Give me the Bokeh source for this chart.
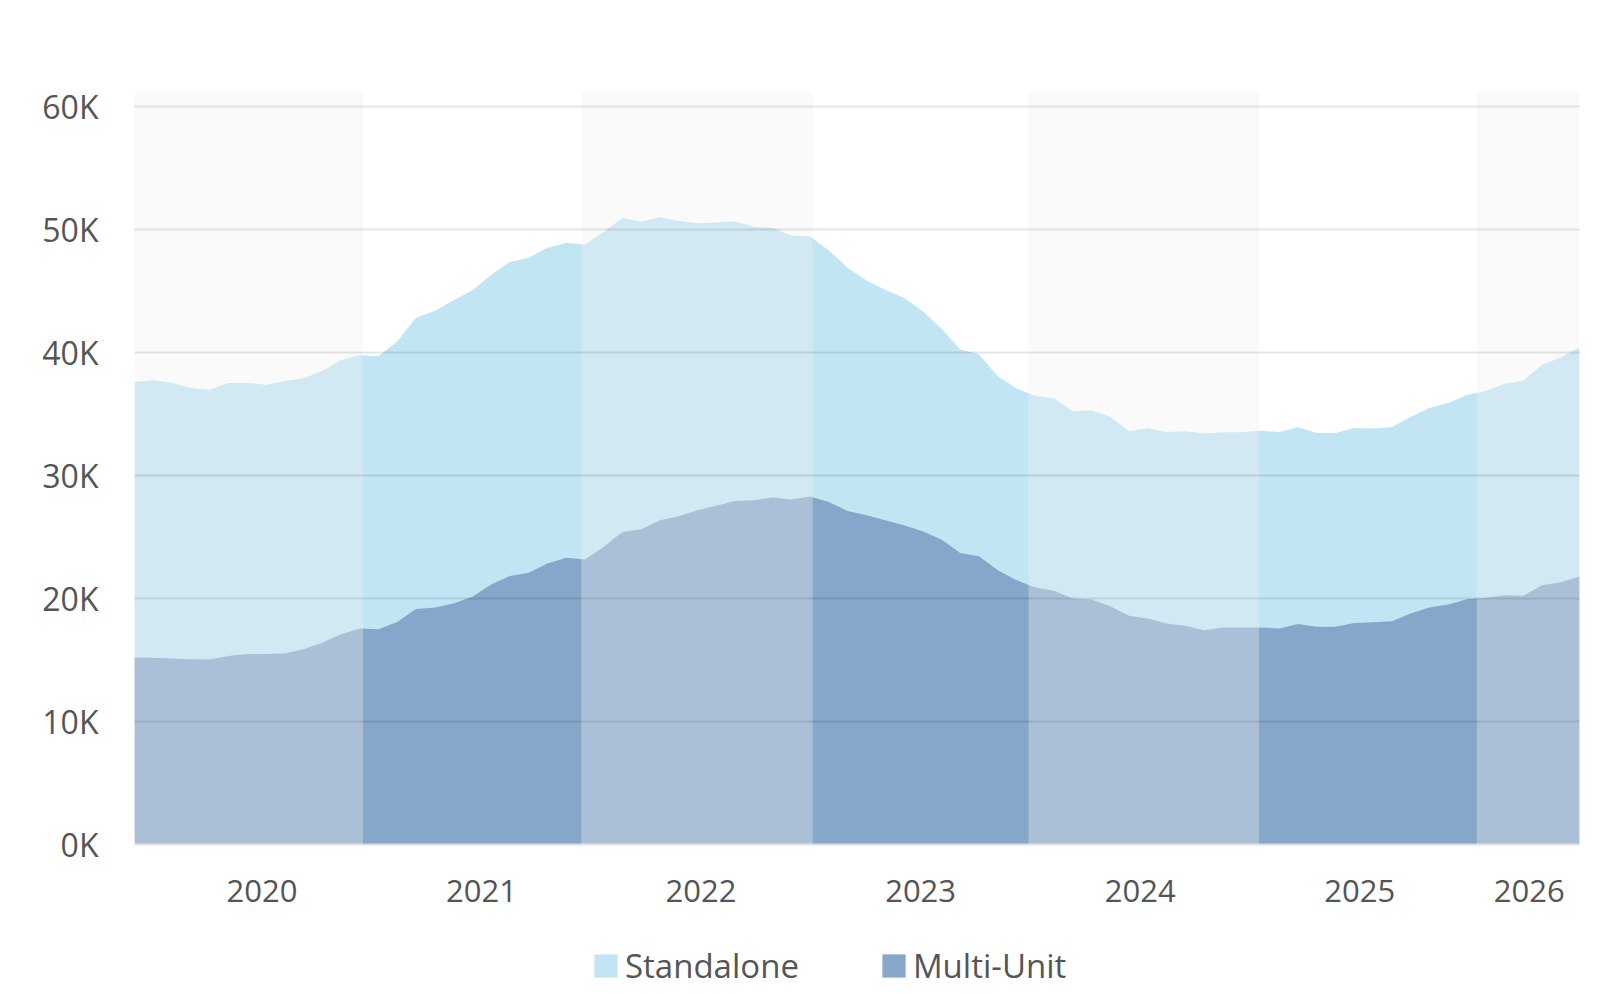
from bokeh.plotting import figure
from bokeh.layouts import column
from bokeh.models import (Range1d, FixedTicker, CustomJSTickFormatter, BoxAnnotation,
                          Legend, LegendItem)
from bokeh.embed import file_html
from bokeh.resources import INLINE

# ---- data (values in thousands) ----
years = ["2020", "2021", "2022", "2023", "2024", "2025", "2026"]

standalone_k = [
    37.63, 37.77, 37.57, 37.14, 37.00, 37.55, 37.55, 37.41, 37.71, 37.93,
    38.52, 39.39, 39.80, 39.72, 40.93, 42.86, 43.40, 44.27, 45.08, 46.36,
    47.38, 47.74, 48.55, 48.93, 48.81, 49.82, 50.96, 50.66, 51.04, 50.72,
    50.55, 50.61, 50.69, 50.26, 50.15, 49.55, 49.47, 48.33, 46.93, 45.89,
    45.14, 44.49, 43.40, 41.97, 40.28, 39.88, 38.09, 37.09, 36.50, 36.28,
    35.24, 35.33, 34.78, 33.62, 33.86, 33.56, 33.62, 33.43, 33.54, 33.54,
    33.67, 33.56, 33.94, 33.48, 33.48, 33.89, 33.84, 33.97, 34.78, 35.51,
    35.92, 36.57, 36.89, 37.49, 37.74, 39.04, 39.61, 40.48,
]

multi_unit_k = [
    15.22, 15.19, 15.14, 15.08, 15.05, 15.33, 15.49, 15.49, 15.54, 15.89,
    16.41, 17.11, 17.58, 17.52, 18.11, 19.15, 19.28, 19.61, 20.15, 21.15,
    21.85, 22.10, 22.86, 23.32, 23.19, 24.21, 25.43, 25.65, 26.38, 26.71,
    27.20, 27.55, 27.95, 28.01, 28.23, 28.07, 28.31, 27.87, 27.14, 26.79,
    26.38, 25.98, 25.49, 24.81, 23.72, 23.46, 22.32, 21.50, 20.91, 20.64,
    20.01, 19.93, 19.39, 18.60, 18.39, 17.98, 17.79, 17.44, 17.66, 17.66,
    17.66, 17.58, 17.93, 17.71, 17.71, 18.03, 18.09, 18.17, 18.80, 19.28,
    19.53, 19.96, 20.07, 20.28, 20.23, 21.10, 21.34, 21.80,
]

y_ticks_k = [0, 10, 20, 30, 40, 50, 60]

# ---- derived ----
n = len(standalone_k)
x = list(range(n))
standalone = [v * 1000 for v in standalone_k]
multi_unit = [v * 1000 for v in multi_unit_k]

# axis layout (in point-index units)
year_step = 11.70
year_pos = [6.79 + k * year_step for k in range(len(years) - 1)] + [74.32]
band_edges = [(0, 12.18), (23.81, 36.14), (47.64, 59.93), (71.53, n - 1)]

FONT = "Open Sans"
TXT = "#555555"
C_SA = "#c2e5f4"
C_MU = "#86a7c9"

p = figure(width=1592, height=918, output_backend="svg", toolbar_location=None,
           x_range=Range1d(0, n - 1), y_range=Range1d(0, 61260),
           min_border_left=134, min_border_right=13, min_border_top=91,
           min_border_bottom=74, outline_line_color=None,
           background_fill_color="white", border_fill_color="white")

p.varea(x=x, y1=0, y2=standalone, fill_color=C_SA, fill_alpha=1.0)
p.varea(x=x, y1=0, y2=multi_unit, fill_color=C_MU, fill_alpha=1.0)

for l, r in band_edges:
    p.add_layout(BoxAnnotation(left=l, right=r, fill_color="#f1f1f1", fill_alpha=0.35,
                               line_color=None, level="annotation"))

# grid drawn on top
p.xgrid.visible = False
p.ygrid.ticker = FixedTicker(ticks=[v * 1000 for v in y_ticks_k])
p.ygrid.grid_line_color = "black"
p.ygrid.grid_line_alpha = 0.1
p.ygrid.grid_line_width = 2
p.ygrid.level = "overlay"

# y axis
p.yaxis.ticker = FixedTicker(ticks=[v * 1000 for v in y_ticks_k])
p.yaxis.formatter = CustomJSTickFormatter(code="return (tick/1000).toFixed(0) + 'K';")
p.yaxis.axis_line_color = None
p.yaxis.major_tick_line_color = None
p.yaxis.minor_tick_line_color = None
p.yaxis.major_label_standoff = 30
p.yaxis.major_label_text_font = FONT
p.yaxis.major_label_text_font_size = "32px"
p.yaxis.major_label_text_color = TXT

# x axis
p.xaxis.ticker = FixedTicker(ticks=year_pos)
p.xaxis.formatter = CustomJSTickFormatter(args=dict(pos=year_pos, labels=years), code="""
    for (let i = 0; i < pos.length; i++) { if (Math.abs(pos[i] - tick) < 1e-6) return labels[i]; }
    return '';
""")
p.xaxis.axis_line_color = "#e0e0e0"
p.xaxis.axis_line_width = 2
p.xaxis.major_tick_line_color = None
p.xaxis.minor_tick_line_color = None
p.xaxis.major_label_standoff = 29
p.xaxis.major_label_text_font = FONT
p.xaxis.major_label_text_font_size = "31px"
p.xaxis.major_label_text_color = TXT

# ---- legend strip ----
lg = figure(width=1592, height=74, output_backend="svg", toolbar_location=None,
            x_range=Range1d(0, 1), y_range=Range1d(0, 1), min_border=0,
            x_axis_location=None, y_axis_location=None, outline_line_color=None,
            background_fill_color="white", border_fill_color="white")
lg.grid.visible = False
k_sa = lg.varea(x=[0, 1], y1=[-1, -1], y2=[-1, -1], fill_color=C_SA)
k_mu = lg.varea(x=[0, 1], y1=[-1, -1], y2=[-1, -1], fill_color=C_MU)

legend = Legend(items=[LegendItem(label="Standalone", renderers=[k_sa]),
                       LegendItem(label="Multi-Unit", renderers=[k_mu])],
                orientation="horizontal", location=(457, 4),
                label_text_font=FONT, label_text_font_size="33px",
                label_text_color=TXT, glyph_width=29, glyph_height=29,
                label_standoff=5, spacing=80, padding=0, margin=0,
                border_line_color=None, background_fill_alpha=0)
lg.add_layout(legend, "center")

open("out.html", "w").write(file_html(column(p, lg, spacing=0), INLINE))
